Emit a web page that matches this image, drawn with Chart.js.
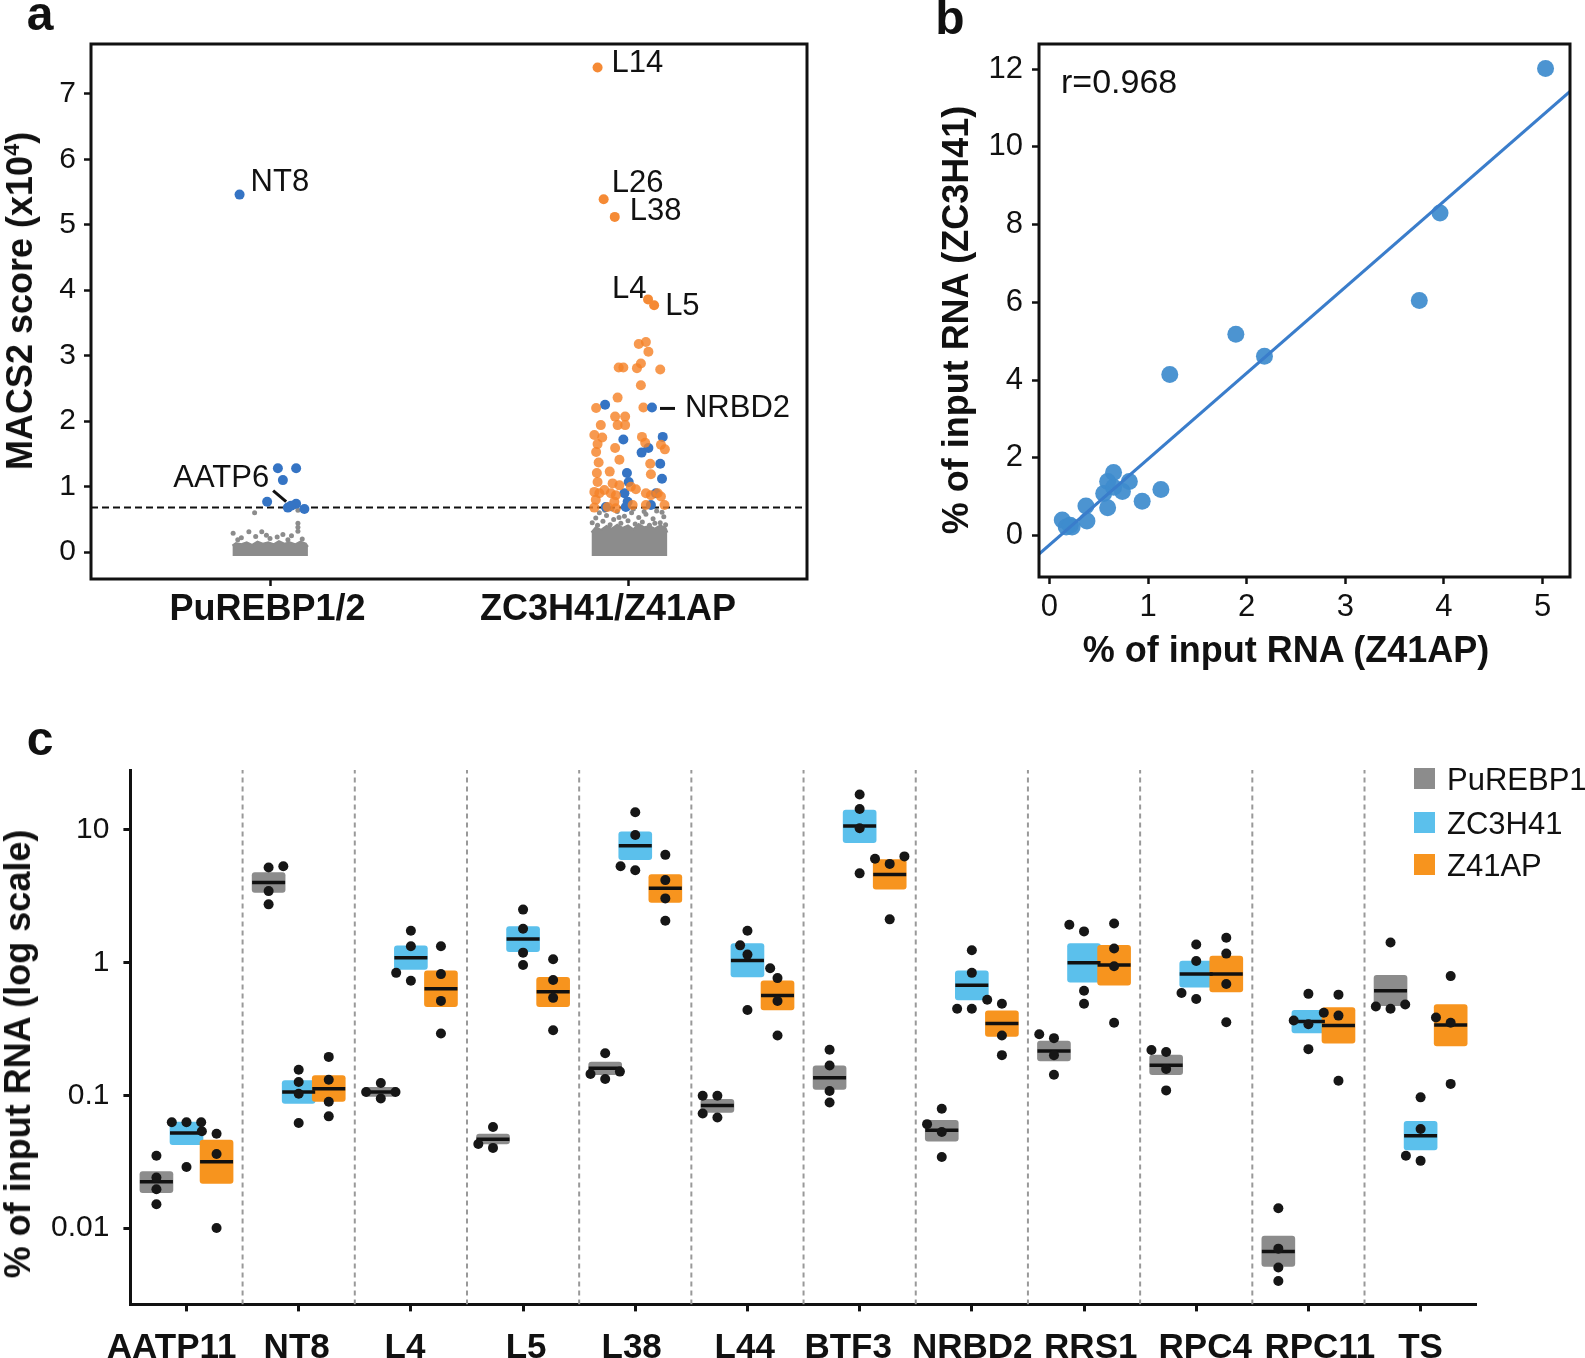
<!DOCTYPE html>
<html>
<head>
<meta charset="utf-8">
<script src="https://cdn.jsdelivr.net/npm/chart.js@4.4.0/dist/chart.umd.min.js"></script>
<style>
  body { margin: 0; background: #fff; }
  #page { position: relative; width: 1585px; height: 1358px; overflow: hidden; background: #fff;
          font-family: "Liberation Sans", Arial, sans-serif; color: #111; }
  canvas { position: absolute; }
  .panel { position: absolute; font-weight: bold; font-size: 48px; line-height: 1; transform: translate(-50%, -50%); }
  .ytitle { position: absolute; font-weight: bold; font-size: 36px; line-height: 1; white-space: nowrap;
            transform: translate(-50%, -50%) rotate(-90deg); }
  .xtitle { position: absolute; font-weight: bold; font-size: 36px; line-height: 1; white-space: nowrap;
            transform: translate(-50%, -50%); }
  .ytitle sup { font-size: 0.6em; line-height: 0; }
  .note { position: absolute; font-size: 34px; line-height: 1; white-space: nowrap; transform: translateY(-50%); }
  .legend-row { position: absolute; left: 1414px; height: 21px; width: 200px; }
  .swatch { position: absolute; left: 0; top: 0; width: 21px; height: 21px; }
  .legend-row .t { position: absolute; left: 33px; top: 50%; transform: translateY(-50%);
                   font-size: 31px; line-height: 1; white-space: nowrap; }
</style>
</head>
<body>
<div id="page">
  <canvas id="chartA" width="830" height="650" style="left:0;top:0"></canvas>
  <canvas id="chartB" width="685" height="640" style="left:900px;top:0"></canvas>
  <canvas id="chartC" width="1585" height="658" style="left:0;top:700px"></canvas>

  <div class="panel" style="left:40px;top:14px">a</div>
  <div class="panel" style="left:950px;top:18px">b</div>
  <div class="panel" style="left:40px;top:739px">c</div>

  <div class="ytitle" style="left:20px;top:301px">MACS2 score (x10<sup>4</sup>)</div>
  <div class="ytitle" style="left:956px;top:320px">% of input RNA (ZC3H41)</div>
  <div class="xtitle" style="left:1286px;top:650px">% of input RNA (Z41AP)</div>
  <div class="ytitle" style="left:18px;top:1054px">% of input RNA (log scale)</div>
  <div class="note" id="rNote" style="left:1061px;top:81px"></div>

  <div class="legend-row" style="top:768px"><div class="swatch" style="background:#8c8c8c"></div><span class="t" id="lg0"></span></div>
  <div class="legend-row" style="top:812px"><div class="swatch" style="background:#5bc0ec"></div><span class="t" id="lg1"></span></div>
  <div class="legend-row" style="top:854px"><div class="swatch" style="background:#f7941e"></div><span class="t" id="lg2"></span></div>
</div>

<script>
// ---------- panel a: MACS2 peak scores ----------
const aGroups = ["PuREBP1/2", "ZC3H41/Z41AP"]
const aYTicks = [0, 1, 2, 3, 4, 5, 6, 7]
const aThreshold = 0.68

// labelled peaks
const aLabelNames = ["NT8", "L14", "L26", "L38", "L4", "L5", "NRBD2", "AATP6"]
const aLabelPts = [[0.915, 5.46], [1.915, 7.40], [1.932, 5.39], [1.963, 5.12],
                   [2.056, 3.86], [2.073, 3.77], [2.067, 2.21], [1.059, 0.71]]
const aLabelIsBlue = [true, false, false, false, false, false, true, true]

const aOrangePts = [
  [2.030, 3.18], [2.050, 3.21], [2.057, 3.06], [1.974, 2.82], [1.987, 2.82], [2.025, 2.81], [2.036, 2.88], [2.090, 2.79],
  [2.036, 2.55], [1.971, 2.36], [1.911, 2.20], [2.043, 2.21], [1.964, 2.07], [1.992, 2.07], [1.971, 1.94], [1.992, 1.94],
  [1.924, 1.94], [1.906, 1.79], [1.928, 1.75], [1.915, 1.65], [1.911, 1.53], [1.964, 1.59], [2.039, 1.76], [2.048, 1.67],
  [2.092, 1.64], [2.103, 1.57], [1.976, 1.41], [1.918, 1.37], [2.062, 1.35], [1.913, 1.21], [1.949, 1.23], [2.064, 1.19],
  [1.915, 1.07], [1.957, 1.05], [1.976, 1.02], [2.008, 1.00], [2.022, 0.96], [1.906, 0.92], [1.920, 0.90], [1.934, 0.95],
  [1.952, 0.90], [1.966, 0.87], [2.050, 0.90], [2.064, 0.87], [2.083, 0.90], [2.092, 0.85], [1.910, 0.80], [1.962, 0.77],
  [2.013, 0.72], [2.050, 0.72], [2.102, 0.72], [1.906, 0.68], [1.943, 0.69], [1.966, 0.67]
]
const aBluePts = [
  [1.022, 1.28], [1.073, 1.28], [1.036, 1.10], [0.992, 0.77], [1.073, 0.74], [1.096, 0.66], [1.050, 0.68],
  [1.936, 2.25], [1.987, 1.72], [2.097, 1.76], [2.057, 1.59], [2.038, 1.52], [2.090, 1.35], [2.095, 1.12],
  [1.997, 1.21], [2.002, 1.07], [1.990, 0.90], [1.999, 0.77], [1.938, 0.69], [2.064, 0.72], [2.078, 0.90], [1.994, 0.69]
]
// background (non-significant) peaks: dense band tops + scattered points
const aGrayBandP = [[0.895, 0.10], [0.905, 0.14], [0.92, 0.12], [0.935, 0.15], [0.95, 0.11], [0.965, 0.16], [0.98, 0.13],
  [0.995, 0.15], [1.01, 0.12], [1.025, 0.17], [1.04, 0.13], [1.055, 0.15], [1.07, 0.12], [1.085, 0.16], [1.10, 0.13], [1.106, 0.08]]
const aGrayBandZ = [[1.898, 0.30], [1.91, 0.38], [1.925, 0.34], [1.94, 0.40], [1.955, 0.36], [1.97, 0.42], [1.985, 0.37],
  [2.0, 0.41], [2.015, 0.35], [2.03, 0.43], [2.045, 0.38], [2.06, 0.40], [2.075, 0.36], [2.09, 0.41], [2.105, 0.37], [2.11, 0.30]]
const aGraySparse = [
  [0.897, 0.29], [0.941, 0.31], [0.977, 0.31], [1.036, 0.27], [1.06, 0.25], [0.957, 0.60], [1.078, 0.64], [1.078, 0.44],
  [1.078, 0.38], [1.078, 0.32], [0.92, 0.22], [0.96, 0.24], [1.0, 0.21], [1.02, 0.23], [1.09, 0.20], [0.91, 0.19],
  [0.99, 0.26], [1.05, 0.19],
  [1.90, 0.45], [1.91, 0.52], [1.92, 0.60], [1.93, 0.47], [1.94, 0.56], [1.95, 0.42], [1.96, 0.50], [1.97, 0.62],
  [1.98, 0.44], [1.99, 0.55], [2.00, 0.48], [2.01, 0.60], [2.02, 0.43], [2.03, 0.53], [2.04, 0.46], [2.05, 0.58],
  [2.06, 0.41], [2.07, 0.51], [2.08, 0.63], [2.09, 0.45], [2.10, 0.54], [2.105, 0.42], [1.915, 0.41], [1.935, 0.64],
  [1.975, 0.53], [2.015, 0.66], [2.045, 0.62], [2.075, 0.44], [2.095, 0.61], [1.955, 0.66]
]

// ---------- panel b: enrichment correlation ----------
const bZ41AP  = [5.03, 3.96, 3.75, 1.89, 2.18, 1.22, 1.13, 0.94, 0.65, 0.59, 0.81, 0.74, 0.55, 0.65, 0.59, 0.37, 0.38, 0.13, 0.17, 0.23, 0.21]
const bZC3H41 = [12.02, 8.30, 6.05, 5.18, 4.61, 4.14, 1.18, 0.88, 1.62, 1.39, 1.39, 1.13, 1.08, 1.24, 0.71, 0.76, 0.37, 0.40, 0.22, 0.22, 0.26]
const bFitSlope = 2.212
const bFitIntercept = -0.245
const bR = "r=0.968"
const bXTicks = [0, 1, 2, 3, 4, 5]
const bYTicks = [0, 2, 4, 6, 8, 10, 12]

// ---------- panel c: qRT-PCR of selected transcripts ----------
const cCategories = ["AATP11", "NT8", "L4", "L5", "L38", "L44", "BTF3", "NRBD2", "RRS1", "RPC4", "RPC11", "TS"]
const cSeries = ["PuREBP1/2", "ZC3H41", "Z41AP"]
const cYTicks = [0.01, 0.1, 1, 10]

const cGrayLow  = [0.0185, 3.39, 0.098, 0.0430, 0.143, 0.0745, 0.111, 0.0451, 0.182, 0.143, 0.00514, 0.474]
const cGrayHigh = [0.0267, 4.77, 0.115, 0.0511, 0.178, 0.0933, 0.167, 0.0649, 0.256, 0.201, 0.00871, 0.803]
const cGrayMean = [0.0223, 4.02, 0.106, 0.0468, 0.160, 0.0838, 0.136, 0.0547, 0.216, 0.169, 0.00667, 0.615]
const cGrayDots = [[0.0351, 0.0240, 0.0196, 0.0151], [5.21, 5.32, 3.46, 2.75], [0.106, 0.124, 0.106, 0.0946],
  [0.0578, 0.0430, 0.0402], [0.208, 0.145, 0.133, 0.151], [0.0993, 0.0993, 0.0730, 0.0681],
  [0.221, 0.168, 0.108, 0.0883], [0.0793, 0.0607, 0.0529, 0.0343], [0.289, 0.270, 0.201, 0.143],
  [0.220, 0.212, 0.158, 0.109], [0.0141, 0.00700, 0.00504, 0.00399], [1.42, 0.468, 0.449, 0.484]]
const cGrayJitter = [[0, 0, 0, 0], [0, 1, 0, 0], [-1, 0, 1, 0], [0, -1, 0], [0, -1, 0, 1], [-1, 0, -1, 0],
  [0, 0, 0, 0], [0, -1, 0, 0], [-1, 0, 0, 0], [-1, 0, 0, 0], [0, 0, 0, 0], [0, -1, 0, 1]]

const cBlueLow  = [0.0425, 0.0871, 0.889, 1.21, 5.98, 0.781, 8.03, 0.525, 0.714, 0.653, 0.295, 0.0388]
const cBlueHigh = [0.0628, 0.129, 1.34, 1.87, 9.67, 1.39, 14.1, 0.866, 1.39, 1.03, 0.437, 0.0637]
const cBlueMean = [0.0521, 0.106, 1.09, 1.51, 7.60, 1.04, 10.7, 0.676, 1.00, 0.820, 0.360, 0.0497]
const cBlueDots = [[0.0628, 0.0628, 0.0628, 0.0289], [0.156, 0.126, 0.103, 0.0619], [1.74, 1.33, 0.838, 0.730],
  [2.51, 1.80, 1.19, 0.959], [13.6, 9.15, 5.32, 4.97], [1.74, 1.35, 1.15, 0.440], [18.5, 14.4, 10.3, 4.71],
  [1.24, 0.838, 0.449, 0.449], [1.93, 1.72, 0.615, 0.490], [1.37, 1.03, 0.590, 0.532],
  [0.367, 0.582, 0.343, 0.223], [0.0966, 0.0558, 0.0351, 0.0321]]
const cBlueJitter = [[-1, 0, 1, 0], [0, 0, 0, 0], [0, 0, -1, 0], [0, 0, 0, 0], [0, 0, -1, 0], [0, -0.5, 0, 0],
  [0, 0, 0, 0], [0, 0, -1, 0], [-1, 0, 0, 0], [0, 0, -1, 0], [-1, 0, 0, 0], [0, 0, -1, 0]]

const cOrangeLow  = [0.0217, 0.0902, 0.467, 0.467, 2.85, 0.440, 3.58, 0.278, 0.676, 0.603, 0.247, 0.236]
const cOrangeHigh = [0.0461, 0.141, 0.866, 0.776, 4.61, 0.730, 5.98, 0.434, 1.35, 1.12, 0.458, 0.484]
const cOrangeMean = [0.0316, 0.112, 0.637, 0.603, 3.63, 0.566, 4.61, 0.348, 0.959, 0.820, 0.336, 0.339]
const cOrangeDots = [[0.0536, 0.0514, 0.0362, 0.0100], [0.195, 0.131, 0.0896, 0.0695], [1.33, 0.820, 0.515, 0.293],
  [1.06, 0.740, 0.543, 0.310], [6.49, 4.19, 3.05, 2.07], [0.908, 0.765, 0.514, 0.283], [6.07, 5.55, 6.32, 2.12],
  [0.525, 0.490, 0.283, 0.201], [1.97, 1.28, 0.940, 0.353], [1.54, 1.17, 0.690, 0.356],
  [0.419, 0.574, 0.399, 0.129], [0.792, 0.386, 0.353, 0.122]]
const cOrangeJitter = [[-1, 0, 0, 0], [0, 0, 0, 0], [0, 0, 0, 0], [0, 0, 0, 0], [0, 0, 0, 0], [-0.5, 0, 0, 0],
  [-1, 0, 1, 0], [-1, 0, 0, 0], [0, 0, 0, 0], [0, 0, 0, 0], [-1, 0, 0, 0], [0, -1, 0, 0]]

// ---------- shared setup ----------
Chart.defaults.font.family = '"Liberation Sans", Arial, sans-serif'
Chart.defaults.color = "#111"
Chart.defaults.animation = false
Chart.defaults.plugins.legend.display = false
Chart.defaults.plugins.tooltip.enabled = false

const toXY = (pts) => pts.map((p) => ({ x: p[0], y: p[1] }))

// black frame around the plot area (panels a and b)
const framePlugin = {
  id: "frame",
  afterDraw(chart) {
    const { ctx, chartArea: { left, top, right, bottom } } = chart
    ctx.save()
    ctx.strokeStyle = "#111"
    ctx.lineWidth = 3
    ctx.strokeRect(left, top, right - left, bottom - top)
    ctx.restore()
  },
}

function tickAxis(opts) {
  return Object.assign({
    border: { display: false },
    grid: { display: true, drawOnChartArea: false, drawTicks: true, tickLength: 7, tickWidth: 2.5, tickColor: "#111", color: "#111" },
  }, opts)
}

// label-only axis (labels sit slightly off the tick marks in the original)
function labelAxis(min, max, values, labels, font, padding, height) {
  return {
    type: "linear", position: "bottom", weight: 1, min, max, offset: false,
    border: { display: false },
    grid: { display: false, drawTicks: false, drawOnChartArea: false },
    afterBuildTicks: (s) => { s.ticks = values.map((v) => ({ value: v })) },
    afterFit: (s) => { s.height = height },
    ticks: { callback: (v, i) => labels[i], font, padding, autoSkip: false, maxRotation: 0, minRotation: 0 },
  }
}

// ---------- panel a ----------
const aXMin = 0.5, aXMax = 2.5, aYMin = -0.41, aYMax = 7.76
const aLabelShift = [-0.007, -0.056]
const aLabelStyle = [
  { dx: 11, dy: -12, align: "left" },
  { dx: 14, dy: -4, align: "left" },
  { dx: 8, dy: -16, align: "left" },
  { dx: 15, dy: -5, align: "left" },
  { dx: -1.5, dy: -10, align: "right" },
  { dx: 11, dy: 1, align: "left" },
  { dx: 33, dy: 1, align: "left", line: [8, 1, 23, 1] },
  { dx: -22, dy: -27, align: "right", line: [-18, -15, -5, -4] },
]
const aLabelPlugin = {
  id: "peakLabels",
  afterDatasetsDraw(chart) {
    const { ctx, scales: { x, y } } = chart
    ctx.save()
    ctx.font = '31px "Liberation Sans", Arial, sans-serif'
    ctx.fillStyle = "#111"
    ctx.strokeStyle = "#111"
    ctx.textBaseline = "middle"
    aLabelNames.forEach((name, i) => {
      const px = x.getPixelForValue(aLabelPts[i][0])
      const py = y.getPixelForValue(aLabelPts[i][1])
      const s = aLabelStyle[i]
      ctx.textAlign = s.align
      ctx.fillText(name, px + s.dx, py + s.dy)
      if (s.line) {
        ctx.lineWidth = 3
        ctx.beginPath()
        ctx.moveTo(px + s.line[0], py + s.line[1])
        ctx.lineTo(px + s.line[2], py + s.line[3])
        ctx.stroke()
      }
    })
    ctx.restore()
  },
}

new Chart(document.getElementById("chartA"), {
  type: "scatter",
  data: {
    datasets: [
      { data: toXY(aLabelPts), pointRadius: 5, borderWidth: 0, order: 0,
        backgroundColor: aLabelIsBlue.map((b) => (b ? "#3574c4" : "#f58a35")) },
      { data: toXY(aOrangePts), pointRadius: 5, borderWidth: 0, backgroundColor: "rgba(245,130,40,0.82)", order: 1 },
      { data: toXY(aBluePts), pointRadius: 5, borderWidth: 0, backgroundColor: "#3574c4", order: 2 },
      { type: "line", data: [{ x: aXMin, y: aThreshold }, { x: aXMax, y: aThreshold }], borderColor: "#111",
        borderWidth: 2, borderDash: [7, 4], pointRadius: 0, order: 3 },
      { data: toXY(aGraySparse), pointRadius: 2.5, borderWidth: 0, backgroundColor: "#8c8c8c", order: 4 },
      { type: "line", data: toXY(aGrayBandP), fill: { value: -0.06 }, backgroundColor: "#8c8c8c",
        borderColor: "#8c8c8c", borderWidth: 2, pointRadius: 0, order: 5 },
      { type: "line", data: toXY(aGrayBandZ), fill: { value: -0.06 }, backgroundColor: "#8c8c8c",
        borderColor: "#8c8c8c", borderWidth: 2, pointRadius: 0, order: 6 },
    ],
  },
  options: {
    responsive: false,
    devicePixelRatio: 1,
    layout: { padding: { top: 44, right: 23, left: 0, bottom: 0 } },
    scales: {
      x: tickAxis({
        type: "linear", min: aXMin, max: aXMax, weight: 0,
        afterBuildTicks: (s) => { s.ticks = [1, 2].map((v) => ({ value: v })) },
        afterFit: (s) => { s.height = 7 },
        ticks: { display: false },
      }),
      xLabels: labelAxis(aXMin, aXMax, aLabelShift.map((d, i) => i + 1 + d), aGroups,
                         { size: 36, weight: "bold" }, 2, 64),
      y: tickAxis({
        min: aYMin, max: aYMax,
        afterBuildTicks: (s) => { s.ticks = aYTicks.map((v) => ({ value: v })) },
        afterFit: (s) => { s.width = 91 },
        ticks: { font: { size: 30 }, padding: 8 },
      }),
    },
  },
  plugins: [framePlugin, aLabelPlugin],
})

// ---------- panel b ----------
const bXMin = -0.106, bXMax = 5.278, bYMin = -1.07, bYMax = 12.65
document.getElementById("rNote").textContent = bR

new Chart(document.getElementById("chartB"), {
  type: "scatter",
  data: {
    datasets: [
      { type: "line", order: 0, pointRadius: 0, borderColor: "#3a7dcb", borderWidth: 3,
        data: [bXMin, bXMax].map((x) => ({ x, y: bFitSlope * x + bFitIntercept })) },
      { order: 1, data: bZ41AP.map((x, i) => ({ x, y: bZC3H41[i] })), pointRadius: 8.5, borderWidth: 0,
        backgroundColor: "rgba(62,140,205,0.93)" },
    ],
  },
  options: {
    responsive: false,
    devicePixelRatio: 1,
    layout: { padding: { top: 44, right: 15, left: 0, bottom: 0 } },
    scales: {
      x: tickAxis({
        min: bXMin, max: bXMax,
        afterBuildTicks: (s) => { s.ticks = bXTicks.map((v) => ({ value: v })) },
        afterFit: (s) => { s.height = 63 },
        ticks: { font: { size: 31 }, padding: 5, autoSkip: false, maxRotation: 0 },
      }),
      y: tickAxis({
        min: bYMin, max: bYMax,
        afterBuildTicks: (s) => { s.ticks = bYTicks.map((v) => ({ value: v })) },
        afterFit: (s) => { s.width = 139 },
        ticks: { font: { size: 31 }, padding: 9 },
      }),
    },
  },
  plugins: [framePlugin],
})

// ---------- panel c ----------
const cYMin = 0.00266, cYMax = 28.3
const GROUP_STEP = 0.268
const JITTER = 0.131
const cLabelShift = [-0.132, -0.018, -0.052, 0.027, -0.032, -0.024, -0.102, 0.004, 0.060, 0.080, 0.102, 0]
const cSeriesDefs = [
  { low: cGrayLow, high: cGrayHigh, mean: cGrayMean, dots: cGrayDots, jit: cGrayJitter, color: "#8c8c8c" },
  { low: cBlueLow, high: cBlueHigh, mean: cBlueMean, dots: cBlueDots, jit: cBlueJitter, color: "#5bc0ec" },
  { low: cOrangeLow, high: cOrangeHigh, mean: cOrangeMean, dots: cOrangeDots, jit: cOrangeJitter, color: "#f7941e" },
]
cSeries.forEach((name, i) => { document.getElementById("lg" + i).textContent = name })

const cBoxes = [], cBoxColors = [], cMeans = [], cPoints = [], cSeparators = []
cSeriesDefs.forEach((s, si) => {
  cCategories.forEach((cat, ci) => {
    const x = ci + (si - 1) * GROUP_STEP
    cBoxes.push({ x, y: [s.low[ci], s.high[ci]] })
    cBoxColors.push(s.color)
    cMeans.push({ x, y: s.mean[ci] })
    s.dots[ci].forEach((v, k) => cPoints.push({ x: x + s.jit[ci][k] * JITTER, y: v }))
  })
})
for (let i = 0; i < cCategories.length - 1; i++) {
  cSeparators.push({ x: i + 0.5, y: cYMin }, { x: i + 0.5, y: cYMax }, { x: i + 0.5, y: null })
}
const cXMin = -0.5, cXMax = cCategories.length - 0.5

new Chart(document.getElementById("chartC"), {
  type: "bar",
  data: {
    datasets: [
      { type: "scatter", order: 0, data: cPoints, pointRadius: 5, borderWidth: 0, backgroundColor: "#161616" },
      { type: "scatter", order: 1, data: cMeans, pointStyle: "line", pointRadius: 16.5,
        pointBorderWidth: 3.5, pointBorderColor: "#111", borderColor: "#111" },
      { type: "bar", order: 2, data: cBoxes, backgroundColor: cBoxColors, barThickness: 33,
        borderRadius: 3, borderSkipped: false, borderWidth: 0 },
      { type: "line", order: 3, data: cSeparators, borderColor: "#999", borderWidth: 2,
        borderDash: [5, 4], pointRadius: 0, spanGaps: false },
    ],
  },
  options: {
    responsive: false,
    devicePixelRatio: 1,
    layout: { padding: { top: 70, right: 108.3, left: 0, bottom: 0 } },
    scales: {
      x: {
        type: "linear", min: cXMin, max: cXMax, offset: false, weight: 0,
        border: { display: true, width: 3, color: "#111" },
        grid: { display: true, offset: false, drawOnChartArea: false, drawTicks: true, tickLength: 7,
                tickWidth: 3, tickColor: "#111", color: "#111" },
        afterBuildTicks: (s) => { s.ticks = cCategories.map((c, i) => ({ value: i })) },
        afterFit: (s) => { s.height = 7 },
        ticks: { display: false },
      },
      xLabels: labelAxis(cXMin, cXMax, cLabelShift.map((d, i) => i + d), cCategories,
                         { size: 35, weight: "bold" }, 16, 46.6),
      y: {
        type: "logarithmic", min: cYMin, max: cYMax,
        border: { display: true, width: 3, color: "#111" },
        grid: { display: true, drawOnChartArea: false, drawTicks: true, tickLength: 7,
                tickWidth: 3, tickColor: "#111", color: "#111" },
        afterBuildTicks: (s) => { s.ticks = cYTicks.map((v) => ({ value: v })) },
        afterFit: (s) => { s.width = 130.4 },
        ticks: { callback: (v) => String(v), font: { size: 30 }, padding: 14 },
      },
    },
  },
})
</script>
</body>
</html>
